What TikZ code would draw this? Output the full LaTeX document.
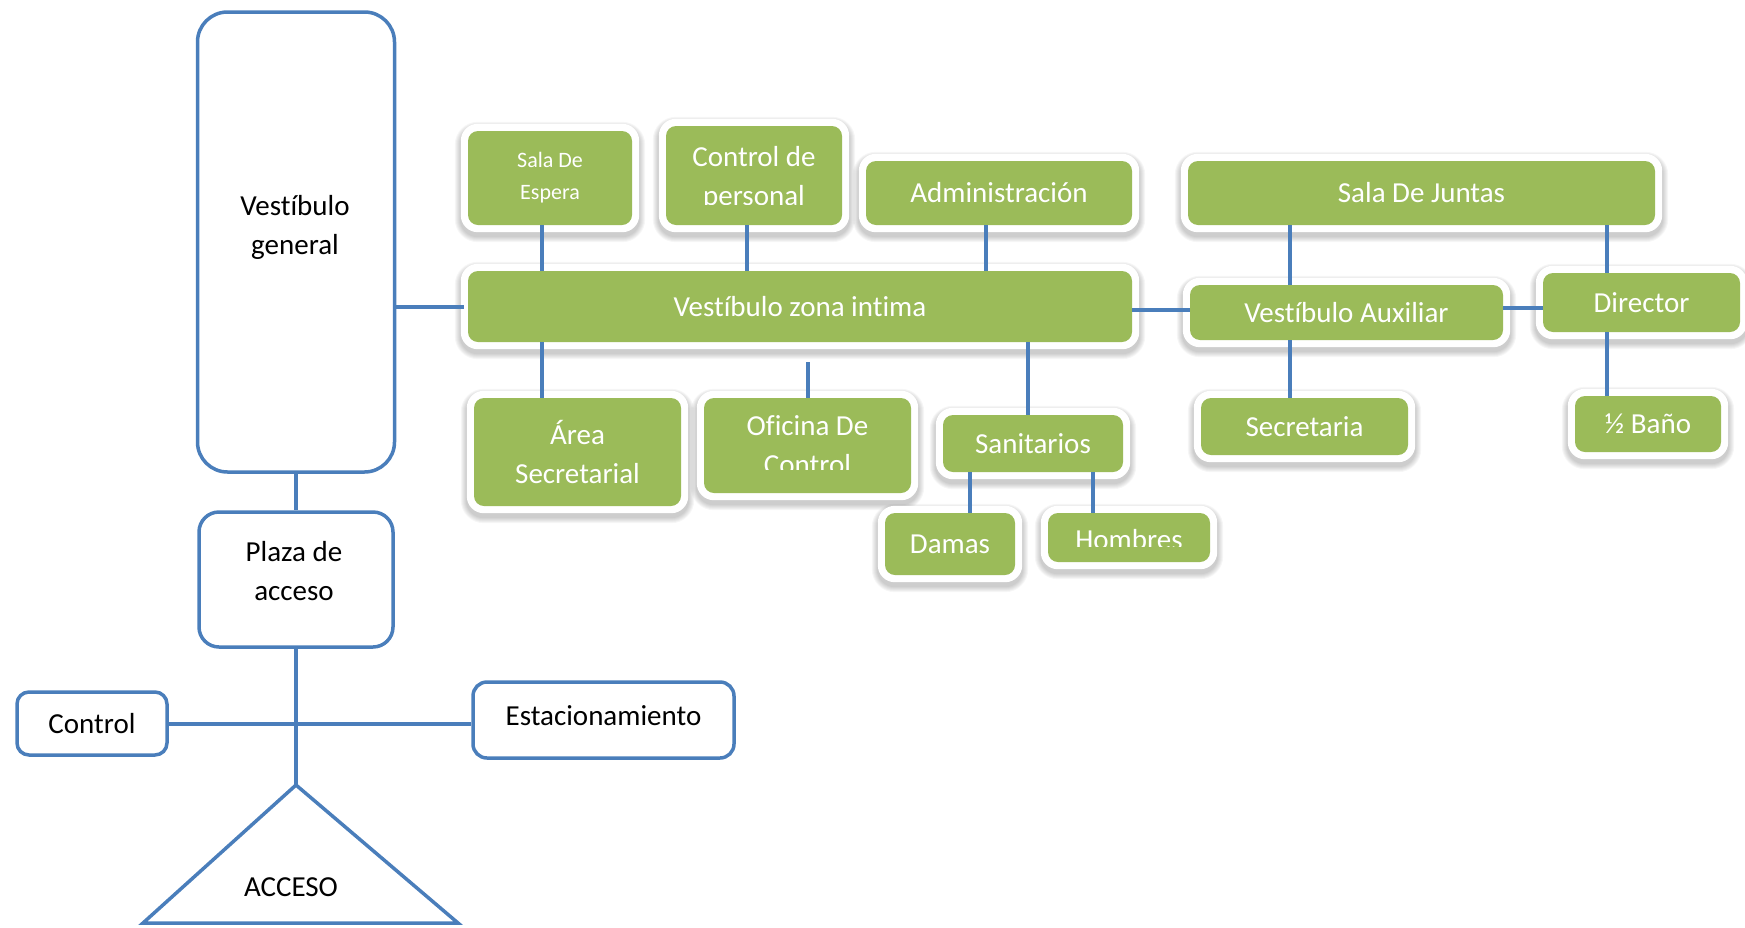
\documentclass[tikz,border=0pt]{standalone}
\usepackage{fontspec}
\setmainfont{Carlito}[Ligatures={NoCommon}]
\usetikzlibrary{calc,backgrounds}
\definecolor{lineblue}{HTML}{4A7EBB}
\definecolor{boxgreen}{HTML}{9BBB59}
\newcommand\txtbig{\fontsize{29}{39}\selectfont}
\newcommand\txtsmall{\fontsize{22}{32}\selectfont}
\begin{document}
\begin{tikzpicture}[x=1pt,y=-1pt,
  bluebox/.style={draw=lineblue, line width=3.5, fill=white, rounded corners=#1,
    inner sep=0, font=\txtbig, align=center},
  btext/.style={font=\txtbig, align=center, inner sep=0, text=black},
  gbox/.style={fill=boxgreen, rounded corners=10, text=white, font=\txtbig,
    align=center, inner sep=0},
  gtext/.style={text=white, font=\txtbig, align=center, inner sep=0},
  link/.style={draw=lineblue, line width=4},
  outline/.style={draw=lineblue, line width=3.5, line join=miter}]
\useasboundingbox (0,0) rectangle (1745,927);

% ---------- entrance side (outlined boxes) ----------
\node[bluebox=30, minimum width=197, minimum height=460] (vg) at (296,242) {};
\node[btext] (vgt) at (295,227) {Vestíbulo\\general};
\node[bluebox=20, minimum width=194, minimum height=135] (plaza) at (296,579.5) {};
\node[btext] (plazat) at (294,571) {Plaza de\\acceso};
\node[bluebox=12, minimum width=150, minimum height=63] (ctrl) at (92,723.5) {Control};
\node[bluebox=14, minimum width=261, minimum height=76] (estac) at (603.5,720) {};
\node[btext] (estact) at (603.5,716) {Estacionamiento};

\coordinate (apex) at (296,785);
\coordinate (accl) at (143,923);
\coordinate (accr) at (458,923);
\draw[outline] (apex) -- (accl) -- (accr) -- cycle;
\node[btext] (acceso) at (291,887) {ACCESO};

\draw[link] (vg.south) -- (plaza.north);
\draw[link] (plaza.south) -- (apex);
\draw[link] (ctrl.east) -- (ctrl.east -| estac.west);

% ---------- green rooms ----------
\node[gbox, minimum width=164, minimum height=94, font=\txtsmall] (sde) at (550,178) {Sala De\\Espera};
\node[gbox, minimum width=176, minimum height=99] (cdp) at (754,175.5) {};
\begin{scope}
  \clip (cdp.north west) rectangle ([yshift=21]cdp.south east);
  \node[gtext] (cdpt) at (754,178) {Control de\\personal};
\end{scope}
\node[gbox, minimum width=266, minimum height=64] (adm) at (999,193) {Administración};
\node[gbox, minimum width=467, minimum height=64] (sdj) at (1421.5,193) {Sala De Juntas};
\node[gbox, minimum width=664, minimum height=71] (vzi) at (800,306.5) {Vestíbulo zona intima};
\node[gbox, minimum width=313, minimum height=55] (vaux) at (1346.5,312.5) {Vestíbulo Auxiliar};
\node[gbox, minimum width=197, minimum height=59] (dir) at (1641.5,302.5) {Director};
\node[gbox, minimum width=207, minimum height=108] (asec) at (577.5,452) {Área\\Secretarial};
\node[gbox, minimum width=207, minimum height=95] (odc) at (807.5,445.5) {};
\begin{scope}
  \clip (odc.north west) rectangle ([yshift=24]odc.south east);
  \node[gtext] (odct) at (807.5,445.5) {Oficina De\\Control};
\end{scope}
\node[gbox, minimum width=180, minimum height=57] (san) at (1033,443.5) {Sanitarios};
\node[gbox, minimum width=130, minimum height=62] (dam) at (950,544) {Damas};
\node[gbox, minimum width=162, minimum height=49] (hom) at (1129,537.5) {};
\begin{scope}
  \clip (hom.north west) rectangle ([yshift=16]hom.south east);
  \node[gtext] (homt) at (1129,540) {Hombres};
\end{scope}
\node[gbox, minimum width=207, minimum height=57] (secr) at (1304.5,426.5) {Secretaria};
\node[gbox, minimum width=146, minimum height=56] (bano) at (1648,424) {½ Baño};

% white frames with soft shadows behind the green rooms
\begin{scope}[on background layer]
  \foreach \n in {sde,cdp,adm,sdj,vzi,vaux,dir,asec,odc,san,dam,hom,secr,bano}{
    \foreach \k in {1,...,6}{
      \fill[black, opacity=0.035, rounded corners=17+\k]
        ($(\n.north west)+(-7-\k,-3-\k)$) rectangle ($(\n.south east)+(7+\k,11+\k)$);
    }
  }
  \foreach \n in {sde,cdp,adm,sdj,vzi,vaux,dir,asec,odc,san,dam,hom,secr,bano}{
    \fill[white, rounded corners=17]
      ($(\n.north west)+(-7,-7)$) rectangle ($(\n.south east)+(7,7)$);
  }
\end{scope}

% ---------- connectors between rooms ----------
\draw[link, shorten >=4] (vg.east |- vzi.west) -- (vzi.west);
\draw[link] ([xshift=-8]sde.south) -- ([xshift=-8]sde.south |- vzi.north);
\draw[link] ([xshift=-7]cdp.south) -- ([xshift=-7]cdp.south |- vzi.north);
\draw[link] ([xshift=-13]adm.south) -- ([xshift=-13]adm.south |- vzi.north);
\draw[link] ([xshift=-35.5]asec.north) -- ([xshift=-35.5]asec.north |- vzi.south);
\draw[link, shorten >=20] (odc.north) -- (odc.north |- vzi.south);
\draw[link] ([xshift=-5]san.north) -- ([xshift=-5]san.north |- vzi.south);
\draw[link] ([xshift=20]dam.north) -- ([xshift=20]dam.north |- san.south);
\draw[link] ([xshift=-36]hom.north) -- ([xshift=-36]hom.north |- san.south);
\draw[link] ([yshift=-3]vzi.east) -- ([yshift=-3]vzi.east -| vaux.west);
\draw[link] ([yshift=5]vaux.east) -- ([yshift=5]vaux.east -| dir.west);
\draw[link] ([xshift=-56.5]vaux.north) -- ([xshift=-56.5]vaux.north |- sdj.south);
\draw[link] ([xshift=-56.5]vaux.south) -- ([xshift=-56.5]vaux.south |- secr.north);
\draw[link] ([xshift=-34.5]dir.north) -- ([xshift=-34.5]dir.north |- sdj.south);
\draw[link] ([xshift=-34.5]dir.south) -- ([xshift=-34.5]dir.south |- bano.north);
\end{tikzpicture}
\end{document}
